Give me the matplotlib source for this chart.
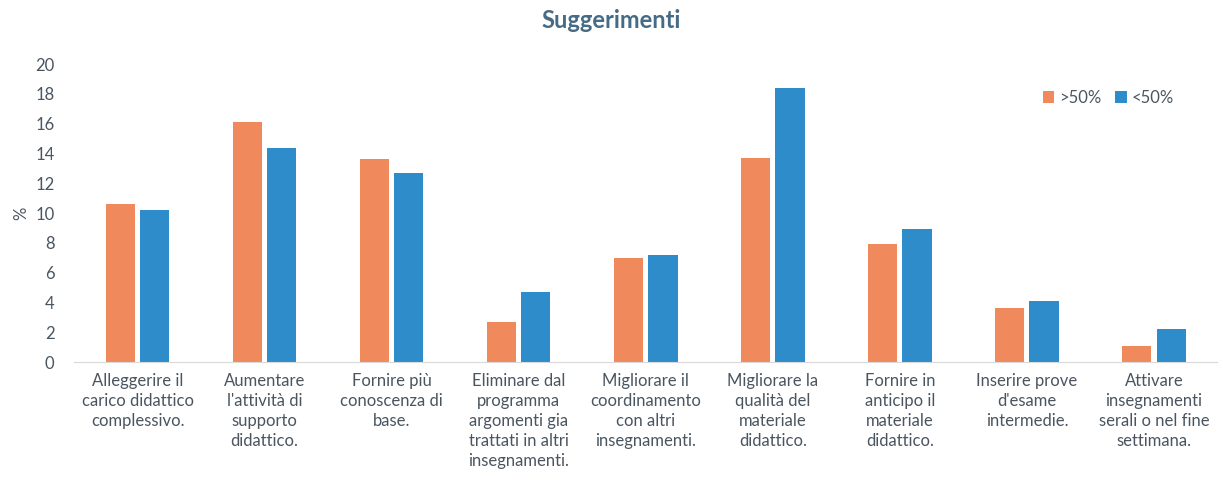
import matplotlib.pyplot as plt
import numpy as np

categories = [
    'Alleggerire il\ncarico didattico\ncomplessivo.',
    "Aumentare\nl'attività di\nsupporto\ndidattico.",
    'Fornire più\nconoscenza di\nbase.',
    'Eliminare dal\nprogramma\nargomenti gia\ntrattati in altri\ninsegnamenti.',
    'Migliorare il\ncoordinamento\ncon altri\ninsegnamenti.',
    'Migliorare la\nqualità del\nmateriale\ndidattico.',
    'Fornire in\nanticipo il\nmateriale\ndidattico.',
    "Inserire prove\nd'esame\nintermedie.",
    'Attivare\ninsegnamenti\nserali o nel fine\nsettimana.',
]
over50 = [10.6, 16.1, 13.6, 2.7, 7.0, 13.7, 7.9, 3.6, 1.1]
under50 = [10.2, 14.4, 12.7, 4.7, 7.2, 18.4, 8.9, 4.1, 2.2]
series_names = ['>50%', '<50%']

plt.rcParams['font.family'] = ['Lato', 'DejaVu Sans']
text_col = '#4a5560'

fig = plt.figure(figsize=(12.23, 4.86), dpi=100)
ax = fig.add_axes([0.0605, 0.255, 0.935, 0.613])

x = np.arange(len(categories))
w = 0.23
ax.bar(x - 0.135, over50, w, color='#f08a5d', label=series_names[0])
ax.bar(x + 0.135, under50, w, color='#2f8ccb', label=series_names[1])

ax.set_xlim(-0.5, len(categories) - 0.5)
ax.set_ylim(0, 20)
ax.set_yticks(range(0, 21, 2))
ax.set_xticks(x)
ax.set_xticklabels(categories, fontsize=12, color=text_col, linespacing=1.3)
ax.tick_params(axis='y', labelsize=12, labelcolor=text_col, length=0, pad=14)
ax.tick_params(axis='x', length=0, pad=8)
for s in ['top', 'right', 'left']:
    ax.spines[s].set_visible(False)
ax.spines['bottom'].set_color('#d9d9d9')

ax.set_ylabel('%', fontsize=12, color=text_col, labelpad=4)
# title is centred on the whole figure, not the axes
fig.text(0.5, 0.958, 'Suggerimenti', fontsize=17, fontweight='bold',
         color='#456b87', ha='center', va='center')

ax.legend(loc='upper right', bbox_to_anchor=(0.975, 0.965), ncol=2, frameon=False,
          fontsize=12, handlelength=0.7, handleheight=0.7, handletextpad=0.3,
          columnspacing=0.8, labelcolor=text_col)

fig.savefig('out.png', dpi=100)
